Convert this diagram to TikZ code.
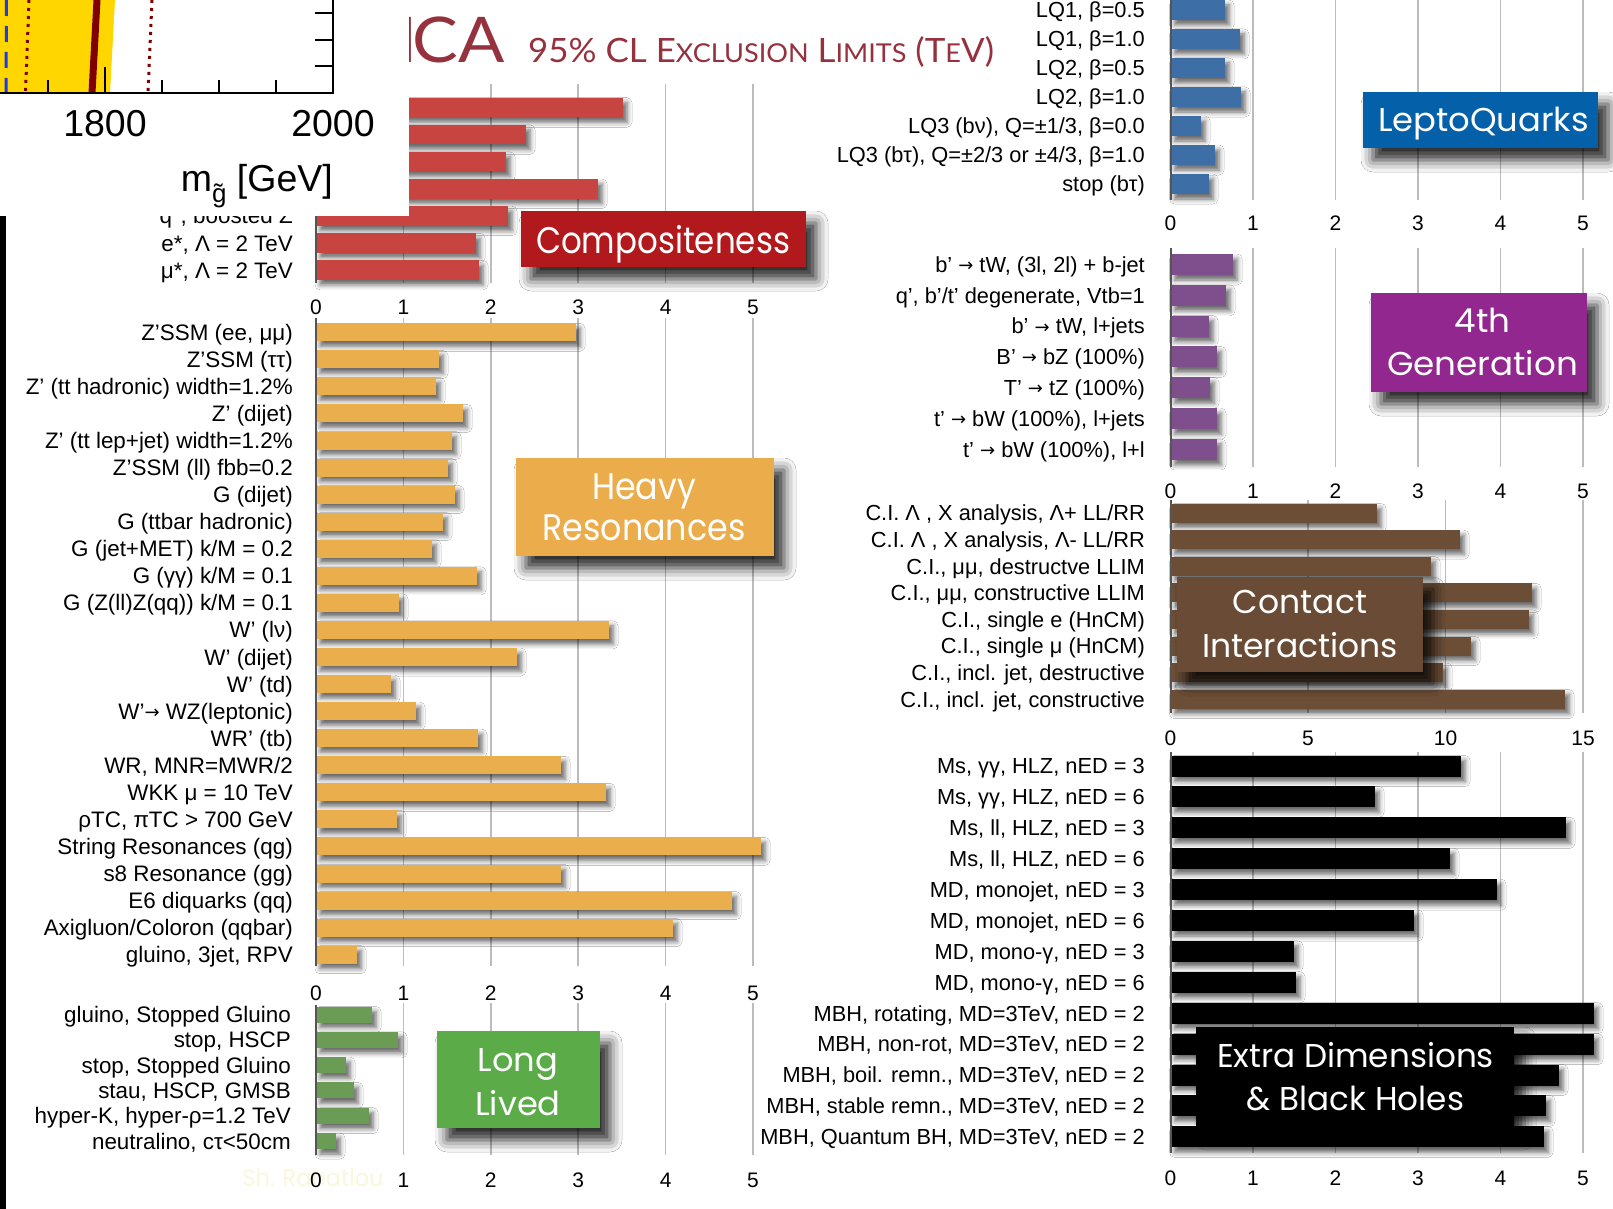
\documentclass[tikz,border=0pt]{standalone}
\usepackage{fontspec}
\usepackage{graphicx}
\setmainfont{Liberation Sans}
\newfontfamily\catfont{Poppins}
\newfontfamily\titlefont{Lato}
\newfontfamily\arrowfont{DejaVu Sans}
\usetikzlibrary{shadows.blur}

% arrow used inside the decay labels
\newcommand\tarrow{\raisebox{0.8pt}{\arrowfont\fontsize{18}{18}\selectfont →}}

\definecolor{compbar}{RGB}{200,68,64}
\definecolor{compbox}{RGB}{177,25,28}
\definecolor{heavybar}{RGB}{234,174,76}
\definecolor{heavybox}{RGB}{235,173,75}
\definecolor{longbar}{RGB}{106,156,85}
\definecolor{longbox}{RGB}{91,172,72}
\definecolor{lqbar}{RGB}{61,110,165}
\definecolor{lqbox}{RGB}{4,96,169}
\definecolor{genbar}{RGB}{126,79,140}
\definecolor{genbox}{RGB}{146,39,143}
\definecolor{cibar}{RGB}{108,78,55}
\definecolor{cibox}{RGB}{106,76,54}
\definecolor{titlered}{RGB}{150,50,61}
\definecolor{gridgray}{RGB}{188,188,188}
\definecolor{axisgray}{RGB}{85,85,85}
\definecolor{plotyellow}{RGB}{255,214,0}
\definecolor{plotdarkred}{RGB}{128,0,0}
\definecolor{plotblue}{RGB}{30,60,230}
\definecolor{watermark}{RGB}{250,247,218}

\tikzset{
  barshadow/.style={blur shadow={shadow xshift=4pt,shadow yshift=-5pt,shadow blur radius=5pt,shadow opacity=60}},
  boxshadow/.style={blur shadow={shadow xshift=10pt,shadow yshift=-12pt,shadow blur radius=12pt,shadow opacity=85}},
  gridline/.style={draw=gridgray, line width=1.5pt},
  axisline/.style={draw=axisgray, line width=2pt},
  leftlabel/.style={anchor=base east, inner sep=0pt, font=\fontsize{22.4}{26}\selectfont},
  rightlabel/.style={anchor=base east, inner sep=0pt, font=\fontsize{21.8}{26}\selectfont},
  ticklabel/.style={anchor=base, inner sep=0pt, font=\fontsize{21}{24}\selectfont},
  catbox/.style={inner sep=0pt, outer sep=0pt, boxshadow},
  cattext/.style={anchor=base, inner sep=0pt, text=white, font=\catfont},
  plotlabel/.style={inner sep=0pt, font=\fontsize{37.5}{40}\selectfont},
}

\begin{document}
\begin{tikzpicture}[x=1pt,y=-1pt]
\useasboundingbox (0,0) rectangle (1613,1209);
\fill[white] (0,0) rectangle (1613,1209);

% ---------- grid lines ----------
\foreach \k in {1,...,5}{
  \draw[gridline] (316+87.4*\k,84) -- (316+87.4*\k,283);
  \draw[gridline] (316+87.4*\k,318) -- (316+87.4*\k,966);
  \draw[gridline] (316+87.4*\k,1003) -- (316+87.4*\k,1155);
  \draw[gridline] (1170.5+82.5*\k,0) -- (1170.5+82.5*\k,200);
  \draw[gridline] (1170.5+82.5*\k,248) -- (1170.5+82.5*\k,467);
  \draw[gridline] (1170.5+82.5*\k,752) -- (1170.5+82.5*\k,1153);
}
\foreach \k in {1,2,3}{
  \draw[gridline] (1170.5+137.5*\k,500) -- (1170.5+137.5*\k,713);
}

% ---------- Compositeness ----------
\foreach \xe [count=\i from 0] in {623,526,506,598,508,476,479}{
  \pgfmathsetmacro\yc{107.5+27.1*\i}
  \fill[compbar, barshadow] (316,\yc-9.75) rectangle (\xe,\yc+9.75);
}
\node[leftlabel] (cl4) at (293,223.9) {q*, boosted Z};
\node[leftlabel] (cl5) at (293,251) {e*, Λ = 2 TeV};
\node[leftlabel] (cl6) at (293,278.1) {μ*, Λ = 2 TeV};

% ---------- Heavy resonances ----------
\foreach \lab/\xe [count=\i from 0] in {
  {Z’SSM (ee, μμ)}/576,
  {Z’SSM (ττ)}/439,
  {Z’ (tt hadronic) width=1.2\%}/436,
  {Z’ (dijet)}/463,
  {Z’ (tt lep+jet) width=1.2\%}/452,
  {Z’SSM (ll) fbb=0.2}/448,
  {G (dijet)}/455,
  {G (ttbar hadronic)}/443,
  {G (jet+MET) k/M = 0.2}/432,
  {G (γγ) k/M = 0.1}/477,
  {G (Z(ll)Z(qq)) k/M = 0.1}/399,
  {W’ (lν)}/609,
  {W’ (dijet)}/517,
  {W’ (td)}/391,
  {W’\tarrow{} WZ(leptonic)}/416,
  {WR’ (tb)}/478,
  {WR, MNR=MWR/2}/561,
  {WKK μ = 10 TeV}/606,
  {ρTC, πTC > 700 GeV}/397,
  {String Resonances (qg)}/761,
  {s8 Resonance (gg)}/561,
  {E6 diquarks (qq)}/732,
  {Axigluon/Coloron (qqbar)}/673,
  {gluino, 3jet, RPV}/357}{
  \pgfmathsetmacro\yc{332.3+27.06*\i}
  \fill[heavybar, barshadow] (316,\yc-9) rectangle (\xe,\yc+9);
  \node[leftlabel] (hr\i) at (293,\yc+8) {\lab};
}

% ---------- Long lived ----------
\foreach \lab/\xe [count=\i from 0] in {
  {gluino, Stopped Gluino}/372,
  {stop, HSCP}/398,
  {stop, Stopped Gluino}/346,
  {stau, HSCP, GMSB}/354,
  {hyper-K, hyper-ρ=1.2 TeV}/369,
  {neutralino, cτ<50cm}/336}{
  \pgfmathsetmacro\yc{1014.5+25.3*\i}
  \fill[longbar, barshadow] (316,\yc-8) rectangle (\xe,\yc+8);
  \node[leftlabel] (ll\i) at (291,\yc+8) {\lab};
}

% ---------- LeptoQuarks ----------
\foreach \lab/\xe [count=\i from 0] in {
  {LQ1, β=0.5}/1225,
  {LQ1, β=1.0}/1240,
  {LQ2, β=0.5}/1225,
  {LQ2, β=1.0}/1241,
  {LQ3 (bν), Q=±1/3, β=0.0}/1201,
  {LQ3 (bτ), Q=±2/3 or ±4/3, β=1.0}/1215,
  {stop (bτ)}/1209}{
  \pgfmathsetmacro\yc{10+29*\i}
  \fill[lqbar, barshadow] (1170.5,\yc-10) rectangle (\xe,\yc+10);
  \node[rightlabel] (lq\i) at (1145,\yc+7.8) {\lab};
}

% ---------- 4th generation ----------
\foreach \lab/\xe [count=\i from 0] in {
  {b’ \tarrow{} tW, (3l, 2l) + b-jet}/1233,
  {q’, b’/t’ degenerate, Vtb=1}/1226,
  {b’ \tarrow{} tW, l+jets}/1209,
  {B’ \tarrow{} bZ (100\%)}/1217,
  {T’ \tarrow{} tZ (100\%)}/1210,
  {t’ \tarrow{} bW (100\%), l+jets}/1217,
  {t’ \tarrow{} bW (100\%), l+l}/1217}{
  \pgfmathsetmacro\yc{264.5+30.83*\i}
  \fill[genbar, barshadow] (1170.5,\yc-10.5) rectangle (\xe,\yc+10.5);
  \node[rightlabel] (fg\i) at (1145,\yc+7.8) {\lab};
}

% ---------- Contact interactions ----------
\foreach \lab/\xe [count=\i from 0] in {
  {C.I. Λ , X analysis, Λ+ LL/RR}/1377,
  {C.I. Λ , X analysis, Λ- LL/RR}/1460,
  {C.I., μμ, destructve LLIM}/1431,
  {C.I., μμ, constructive LLIM}/1532,
  {C.I., single e (HnCM)}/1529,
  {C.I., single μ (HnCM)}/1471,
  {C.I., incl. jet, destructive}/1443,
  {C.I., incl. jet, constructive}/1565}{
  \pgfmathsetmacro\yc{513+26.6*\i}
  \fill[cibar, barshadow] (1170.5,\yc-9.5) rectangle (\xe,\yc+9.5);
  \node[rightlabel] (ci\i) at (1145,\yc+7.8) {\lab};
}

% ---------- Extra dimensions & black holes ----------
\foreach \lab/\xe [count=\i from 0] in {
  {Ms, γγ, HLZ, nED = 3}/1461,
  {Ms, γγ, HLZ, nED = 6}/1375,
  {Ms, ll, HLZ, nED = 3}/1566,
  {Ms, ll, HLZ, nED = 6}/1450,
  {MD, monojet, nED = 3}/1497,
  {MD, monojet, nED = 6}/1414,
  {MD, mono-γ, nED = 3}/1294,
  {MD, mono-γ, nED = 6}/1296,
  {MBH, rotating, MD=3TeV, nED = 2}/1594,
  {MBH, non-rot, MD=3TeV, nED = 2}/1594,
  {MBH, boil. remn., MD=3TeV, nED = 2}/1559,
  {MBH, stable remn., MD=3TeV, nED = 2}/1546,
  {MBH, Quantum BH, MD=3TeV, nED = 2}/1544}{
  \pgfmathsetmacro\yc{766+30.9*\i}
  \fill[black, barshadow] (1170.5,\yc-10.5) rectangle (\xe,\yc+10.5);
  \node[rightlabel] (ed\i) at (1145,\yc+7.8) {\lab};
}

% ---------- axis lines ----------
\draw[axisline] (316,84) -- (316,283);
\draw[axisline] (316,318) -- (316,966);
\draw[axisline] (316,1005) -- (316,1155);
\draw[axisline] (1170.5,0) -- (1170.5,200);
\draw[axisline] (1170.5,248) -- (1170.5,467);
\draw[axisline] (1170.5,500) -- (1170.5,713);
\draw[axisline] (1170.5,752) -- (1170.5,1153);

% ---------- watermark ----------
\node[anchor=base, inner sep=0pt, text=watermark, font=\catfont] (wm) at (313,1186)
  {\resizebox{141pt}{\height}{\fontsize{24}{24}\selectfont Sh. Rahatlou}};

% ---------- tick labels ----------
\foreach \v [count=\k from 0] in {0,...,5}{
  \node[ticklabel] (ta\k) at (316+87.4*\k,314.5) {\v};
  \node[ticklabel] (tb\k) at (316+87.4*\k,1000) {\v};
  \node[ticklabel] (tc\k) at (316+87.4*\k,1187) {\v};
  \node[ticklabel] (td\k) at (1170.5+82.5*\k,230) {\v};
  \node[ticklabel] (te\k) at (1170.5+82.5*\k,498) {\v};
  \node[ticklabel] (tf\k) at (1170.5+82.5*\k,1185) {\v};
}
\foreach \v [count=\k from 0] in {0,5,10,15}{
  \node[ticklabel] (tg\k) at (1170.5+137.5*\k,745) {\v};
}

% ---------- category boxes ----------
\node[catbox, fill=compbox, minimum width=285pt, minimum height=56pt] (compbox) at (663.5,239) {};
\node[cattext] (comptext) at (663,253)
  {\resizebox{254pt}{\height}{\fontsize{37}{42}\selectfont Compositeness}};

\node[catbox, fill=heavybox, minimum width=258pt, minimum height=98pt] (heavybx) at (645,507) {};
\node[cattext] (heavytext) at (644,499.5)
  {\resizebox{203pt}{\height}{\fontsize{37}{41}\selectfont\begin{tabular}[t]{@{}c@{}}Heavy\\Resonances\end{tabular}}};

\node[catbox, fill=longbox, minimum width=163pt, minimum height=97pt] (longbx) at (518.5,1079.5) {};
\node[cattext] (longtext) at (518,1071)
  {\resizebox{85.5pt}{\height}{\fontsize{33}{44}\selectfont\begin{tabular}[t]{@{}c@{}}Long\\Lived\end{tabular}}};

\node[catbox, fill=lqbox, minimum width=235pt, minimum height=56pt] (lqbx) at (1480.5,120) {};
\node[cattext] (lqtext) at (1483.5,132)
  {\resizebox{211pt}{\height}{\fontsize{33}{40}\selectfont LeptoQuarks}};

\node[catbox, fill=genbox, minimum width=216pt, minimum height=99pt] (genbx) at (1479,342.5) {};
\node[cattext] (gentext) at (1482.5,332.5)
  {\resizebox{191pt}{\height}{\fontsize{33}{43}\selectfont\begin{tabular}[t]{@{}c@{}}4th\\Generation\end{tabular}}};

\node[catbox, fill=cibox, minimum width=246pt, minimum height=95pt] (cibx) at (1300,624.5) {};
\node[cattext] (citext) at (1300,613)
  {\resizebox{196pt}{\height}{\fontsize{33}{44}\selectfont\begin{tabular}[t]{@{}c@{}}Contact\\Interactions\end{tabular}}};

\node[catbox, fill=black, minimum width=318pt, minimum height=99pt] (edbx) at (1355,1076.5) {};
\node[cattext] (edtext) at (1355.5,1067)
  {\resizebox{277pt}{\height}{\fontsize{33}{43}\selectfont\begin{tabular}[t]{@{}c@{}}Extra Dimensions\\\& Black Holes\end{tabular}}};

% ---------- title ----------
\node[anchor=base west, inner sep=0pt, text=titlered, font=\titlefont] (titleica) at (399,63)
  {\fontsize{63}{63}\selectfont I\kern-4pt\resizebox{92pt}{\height}{CA}};
\node[anchor=base west, inner sep=0pt, text=titlered, font=\titlefont] (titlemain) at (528,63)
  {\resizebox{466pt}{\height}{\fontsize{33.5}{34}\selectfont 95\% CL E{\fontsize{26}{26}\selectfont XCLUSION} L{\fontsize{26}{26}\selectfont IMITS} (T{\fontsize{26}{26}\selectfont E}V)}};

% ---------- inset mass plot ----------
\fill[white] (0,0) rectangle (409,216);
\fill[plotyellow] (0,0) -- (115,0) -- (110,93) -- (0,93) -- cycle;
\draw[plotblue, line width=3pt, dash pattern=on 16pt off 10pt] (6.5,0) -- (6,93);
\draw[plotdarkred, line width=3pt, dash pattern=on 3pt off 5pt] (29,0) -- (25.5,93);
\draw[plotdarkred, line width=3pt, dash pattern=on 3pt off 5pt] (152,0) -- (148,93);
\draw[plotdarkred, line width=7pt] (97,0) -- (92,93);
\foreach \tx in {48,162,219,276}{ \draw[line width=1.6pt] (\tx,93) -- (\tx,80); }
\draw[line width=1.6pt] (105,93) -- (105,67);
\foreach \ty in {13,40,66}{ \draw[line width=1.6pt] (333,\ty) -- (315,\ty); }
\draw[line width=2.5pt] (0,93) -- (333,93) -- (333,0);
\node[plotlabel, anchor=base] (m1800) at (105,137) {1800};
\node[plotlabel, anchor=base] (m2000) at (333,137) {2000};
\node[plotlabel, anchor=base east] (mtitle) at (333,191)
  {m\raisebox{-0.32em}{\fontsize{26}{26}\selectfont \~{g}} [GeV]};

% ---------- left edge strip ----------
\fill[black] (0,216) rectangle (6,1209);
\end{tikzpicture}
\end{document}
